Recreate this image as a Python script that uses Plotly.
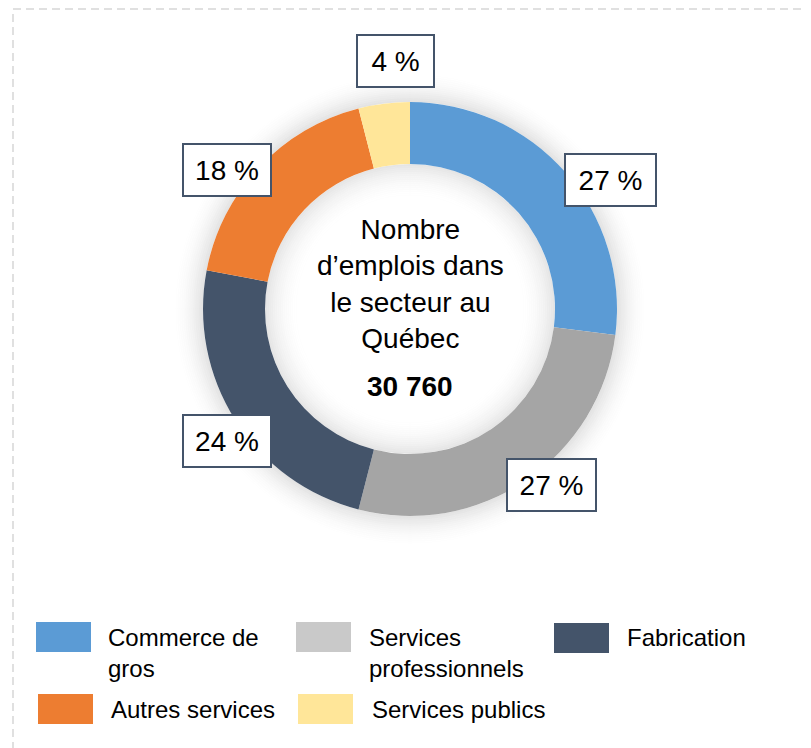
import plotly.graph_objects as go

OFF = 8                      # default page margin of the html body
W, H = 811 - OFF, 748 - OFF  # figure size so the page fits the window

# ---- data ----
categories = ["Commerce de gros", "Services professionnels", "Fabrication",
              "Autres services", "Services publics"]
shares = [27, 27, 24, 18, 4]
legend_labels = ["Commerce de<br>gros", "Services<br>professionnels", "Fabrication",
                 "Autres services", "Services publics"]
center_title = "Nombre<br>d’emplois dans<br>le secteur au<br>Québec"
total_jobs = "30 760"

# ---- styles ----
slice_colors = ["#5B9BD5", "#A5A5A5", "#44546A", "#ED7D31", "#FFE699"]
swatch_colors = ["#5B9BD5", "#C9C9C9", "#44546A", "#ED7D31", "#FFE699"]
FONT = "Liberation Sans, Arial, sans-serif"


def px(x):
    return (x - OFF) / W


def py(y):
    return 1 - (y - OFF) / H


cx, cy, R_out, R_in = 410, 309, 207, 145

fig = go.Figure()
fig.add_trace(go.Pie(
    labels=categories, values=shares, sort=False, direction="clockwise",
    rotation=0, hole=R_in / R_out, textinfo="none", showlegend=False,
    marker=dict(colors=slice_colors, line=dict(width=0)),
    domain=dict(x=[px(cx - R_out), px(cx + R_out)], y=[py(cy + R_out), py(cy - R_out)]),
))

shapes = []
# soft outer shadow
N = 16
for i in range(N):
    r = R_out + 1 + i * 2
    a = 0.11 * (1 - i / N) ** 2
    shapes.append(dict(type="circle", xref="paper", yref="paper", layer="below",
                       x0=px(cx - r), x1=px(cx + r), y0=py(cy + r), y1=py(cy - r),
                       line=dict(color=f"rgba(0,0,0,{a:.4f})", width=2),
                       fillcolor="rgba(0,0,0,0)"))
# soft inner shadow
N2 = 18
for i in range(N2):
    r = R_in - 1 - i * 2
    a = 0.10 * (1 - i / N2) ** 2
    shapes.append(dict(type="circle", xref="paper", yref="paper", layer="below",
                       x0=px(cx - r), x1=px(cx + r), y0=py(cy + r), y1=py(cy - r),
                       line=dict(color=f"rgba(0,0,0,{a:.4f})", width=2),
                       fillcolor="rgba(0,0,0,0)"))

# dashed frame
shapes.append(dict(type="rect", xref="paper", yref="paper", layer="below",
                   x0=px(13), x1=px(W + 60), y0=py(H + 60), y1=py(9),
                   line=dict(color="#D6D6D6", width=1.5, dash="8px,5px")))

annotations = []
# percentage labels
label_pos = [(610.5, 180), (551.5, 484.5), (227, 441.5), (227, 170), (395.5, 61)]
label_w = [87, 85, 84, 84, 73]
for v, (lx, ly), w in zip(shares, label_pos, label_w):
    annotations.append(dict(
        text=f"{v} %", x=px(lx), y=py(ly), xref="paper", yref="paper",
        showarrow=False, xanchor="center", yanchor="middle",
        width=w, height=48, bgcolor="white", bordercolor="#44546A",
        borderwidth=2, borderpad=1,
        font=dict(family=FONT, size=28, color="black")))

# centre text
annotations.append(dict(text=center_title, x=px(cx), y=py(284), xref="paper", yref="paper",
                        showarrow=False, xanchor="center", yanchor="middle",
                        font=dict(family=FONT, size=28, color="black")))
annotations.append(dict(text=f"<b>{total_jobs}</b>", x=px(cx), y=py(386), xref="paper",
                        yref="paper", showarrow=False, xanchor="center", yanchor="middle",
                        font=dict(family=FONT, size=28, color="black")))

# custom legend
sw_pos = [(36, 622), (296, 622), (554, 623), (38, 694), (298, 694)]
tx_pos = [(107, 623), (368, 623), (626, 623), (110, 695), (371, 695)]
for lab, col, (sx, sy), (tx, ty) in zip(legend_labels, swatch_colors, sw_pos, tx_pos):
    shapes.append(dict(type="rect", xref="paper", yref="paper",
                       x0=px(sx), x1=px(sx + 55), y0=py(sy + 30), y1=py(sy),
                       fillcolor=col, line=dict(width=0)))
    annotations.append(dict(text=lab, x=px(tx), y=py(ty), xref="paper", yref="paper",
                            showarrow=False, xanchor="left", yanchor="top", align="left",
                            borderpad=0,
                            font=dict(family=FONT, size=24, color="black")))

fig.update_layout(width=W, height=H, margin=dict(l=0, r=0, t=0, b=0),
                  paper_bgcolor="white", plot_bgcolor="white",
                  shapes=shapes, annotations=annotations)

fig.write_html("out.html")
